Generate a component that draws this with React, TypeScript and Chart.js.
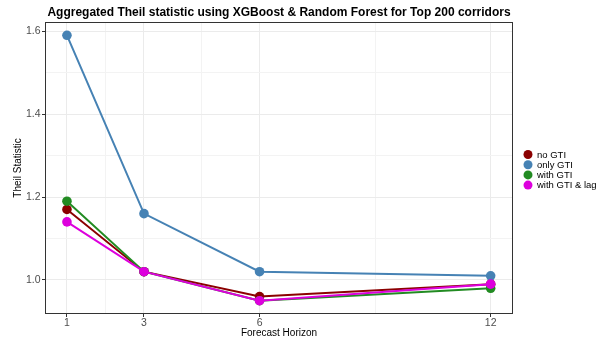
import React, { useEffect, useRef } from "react";
import { Chart, registerables } from "chart.js";

Chart.register(...registerables);

const horizons = [1, 3, 6, 12];
const noGTI = [1.17, 1.02, 0.96, 0.99];
const onlyGTI = [1.59, 1.16, 1.02, 1.01];
const withGTI = [1.19, 1.02, 0.95, 0.98];
const withGTILag = [1.14, 1.02, 0.95, 0.99];
const seriesNames = ["no GTI", "only GTI", "with GTI", "with GTI & lag"];
const seriesColors = ["#8B0000", "#4682B4", "#228B22", "#DD00DD"];
const xMajor = [1, 3, 6, 12];
const xMinor = [2, 4.5, 9];
const yMajor = [1.0, 1.2, 1.4, 1.6];
const yMinor = [1.1, 1.3, 1.5];

const FONT = "'Liberation Sans', Arial, sans-serif";

export default function App() {
  const ref = useRef<HTMLCanvasElement | null>(null);

  useEffect(() => {
    document.body.style.margin = "0";
    const canvas = ref.current!;
    const all = [noGTI, onlyGTI, withGTI, withGTILag];
    const datasets = all.map((vals, i) => ({
      label: seriesNames[i],
      data: vals.map((v, j) => ({ x: horizons[j], y: v })),
      borderColor: seriesColors[i],
      backgroundColor: seriesColors[i],
      pointBackgroundColor: seriesColors[i],
      pointBorderWidth: 0,
      pointRadius: 4.8,
      borderWidth: 2,
      order: [3, 2, 1, 0][i],
      tension: 0,
    }));

    const isMajorX = (v: number) => xMajor.includes(v);
    const isMajorY = (v: number) => yMajor.some((m) => Math.abs(m - v) < 1e-6);

    const panelPlugin = {
      id: "panel",
      afterDatasetsDraw(chart: any) {
        const { ctx, chartArea: a } = chart;
        ctx.save();
        ctx.strokeStyle = "#333333";
        ctx.lineWidth = 1;
        ctx.strokeRect(a.left + 0.5, a.top + 0.5, a.right - a.left - 1, a.bottom - a.top - 1);
        ctx.restore();
      },
      afterDraw(chart: any) {
        const { ctx } = chart;
        ctx.save();
        ctx.font = `9.5px ${FONT}`;
        ctx.textBaseline = "middle";
        ctx.textAlign = "left";
        seriesNames.forEach((n, i) => {
          const y = 154.5 + i * 10.2;
          ctx.fillStyle = seriesColors[i];
          ctx.beginPath();
          ctx.arc(528, y, 4.5, 0, Math.PI * 2);
          ctx.fill();
          ctx.fillStyle = "#000000";
          ctx.fillText(n, 537, y + 0.5);
        });
        ctx.restore();
      },
    };

    const chart = new Chart(canvas, {
      type: "line",
      data: { datasets },
      options: {
        responsive: false,
        animation: false,
        layout: { padding: { left: 0, right: 93, top: 0, bottom: 0 } },
        plugins: {
          legend: { display: false },
          tooltip: { enabled: false },
          title: {
            display: true,
            text: "Aggregated Theil statistic using XGBoost & Random Forest for Top 200 corridors",
            color: "#000000",
            font: { family: FONT, size: 12, weight: "bold", lineHeight: 1.2 },
            padding: { top: 5, bottom: 2.6 },
            fullSize: false,
            align: "center",
          },
        },
        scales: {
          x: {
            type: "linear",
            min: 0.43,
            max: 12.58,
            afterBuildTicks: (s: any) => {
              s.ticks = [...xMajor, ...xMinor].sort((a, b) => a - b).map((v) => ({ value: v }));
            },
            afterFit: (s: any) => {
              s.height = 29;
            },
            ticks: {
              autoSkip: false,
              maxRotation: 0,
              padding: 0,
              color: "#4D4D4D",
              font: { family: FONT, size: 10.5 },
              callback: (v: any) => (isMajorX(Number(v)) ? String(v) : ""),
            },
            grid: {
              color: (c: any) => (isMajorX(c.tick?.value) ? "#EBEBEB" : "#F3F3F3"),
              lineWidth: 1,
              tickLength: 3,
              tickColor: (c: any) => (isMajorX(c.tick?.value) ? "#333333" : "rgba(0,0,0,0)"),
            },
            border: { display: false },
            title: {
              display: true,
              text: "Forecast Horizon",
              color: "#000000",
              font: { family: FONT, size: 10, lineHeight: 1.2 },
              padding: { top: 0, bottom: 4 },
            },
          },
          y: {
            type: "linear",
            min: 0.918,
            max: 1.622,
            afterBuildTicks: (s: any) => {
              s.ticks = [...yMajor, ...yMinor].sort((a, b) => a - b).map((v) => ({ value: v }));
            },
            afterFit: (s: any) => {
              s.width = 45;
            },
            ticks: {
              autoSkip: false,
              padding: 1.5,
              color: "#4D4D4D",
              font: { family: FONT, size: 10.5 },
              callback: (v: any) => (isMajorY(Number(v)) ? Number(v).toFixed(1) : ""),
            },
            grid: {
              color: (c: any) => (isMajorY(c.tick?.value) ? "#EBEBEB" : "#F3F3F3"),
              lineWidth: 1,
              tickLength: 3,
              tickColor: (c: any) => (isMajorY(c.tick?.value) ? "#333333" : "rgba(0,0,0,0)"),
            },
            border: { display: false },
            title: {
              display: true,
              text: "Theil Statistic",
              color: "#000000",
              font: { family: FONT, size: 10, lineHeight: 1.2 },
              padding: { top: 12.5, bottom: 0 },
            },
          },
        },
      },
      plugins: [panelPlugin],
    } as any);

    return () => chart.destroy();
  }, []);

  return (
    <div style={{ position: "absolute", left: 0, top: 0, width: 606, height: 343, background: "#ffffff" }}>
      <canvas ref={ref} width={606} height={343} style={{ width: 606, height: 343, display: "block" }} />
    </div>
  );
}
